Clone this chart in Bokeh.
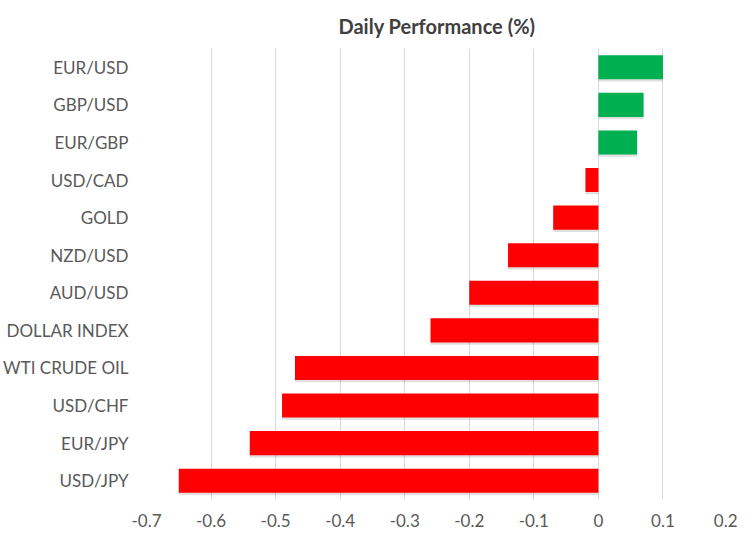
from bokeh.plotting import figure
from bokeh.models import FactorRange, Range1d, FixedTicker
from bokeh.transform import dodge
from bokeh.embed import file_html
from bokeh.resources import INLINE

categories = ["EUR/USD", "GBP/USD", "EUR/GBP", "USD/CAD", "GOLD", "NZD/USD",
              "AUD/USD", "DOLLAR INDEX", "WTI CRUDE OIL", "USD/CHF", "EUR/JPY", "USD/JPY"]
values = [0.10, 0.07, 0.06, -0.02, -0.07, -0.14, -0.20, -0.26, -0.47, -0.49, -0.54, -0.65]
tick_labels = ["-0.7", "-0.6", "-0.5", "-0.4", "-0.3", "-0.2", "-0.1", "0", "0.1", "0.2"]
title_text = "Daily Performance (%)"

colors = ["#00B050" if v > 0 else "#FF0000" for v in values]
font = "Lato"

p = figure(width=737, height=529, output_backend="svg", toolbar_location=None,
           y_range=FactorRange(factors=list(reversed(categories)), range_padding=0),
           x_range=Range1d(float(tick_labels[0]), float(tick_labels[-1])),
           title=title_text)
p.min_border_left = 143
p.min_border_right = 10
p.min_border_bottom = 0
p.min_border_top = 48

p.title.align = "center"
p.title.text_font = font
p.title.text_font_size = "20px"
p.title.text_font_style = "bold"
p.title.text_color = "#404040"
p.title.standoff = 22

src = dict(cat=categories, val=values, color=colors)

# soft shadow
p.hbar(y=dodge("cat", -0.06, range=p.y_range), left=0, right="val", height=0.64,
       source=src, fill_color="#000000", fill_alpha=0.12, line_color=None)
p.hbar(y="cat", left=0, right="val", height=0.64, source=src,
       fill_color="color", line_color=None)

ticks = [float(t) for t in tick_labels]
p.xaxis.ticker = FixedTicker(ticks=ticks)
p.xaxis.major_label_overrides = {t: s for t, s in zip(ticks, tick_labels)}

for ax in (p.xaxis, p.yaxis):
    ax.axis_line_color = None
    ax.major_tick_line_color = None
    ax.minor_tick_line_color = None
    ax.major_label_text_font = font
    ax.major_label_text_font_size = "17px"
    ax.major_label_text_color = "#595959"
p.xaxis.major_label_standoff = 8
p.yaxis.major_label_standoff = 12

p.xgrid.grid_line_color = "#D9D9D9"
p.xgrid.grid_line_width = 1
p.ygrid.grid_line_color = None
p.outline_line_color = None
p.background_fill_color = "white"
p.border_fill_color = "white"

open("out.html", "w").write(file_html(p, INLINE))
